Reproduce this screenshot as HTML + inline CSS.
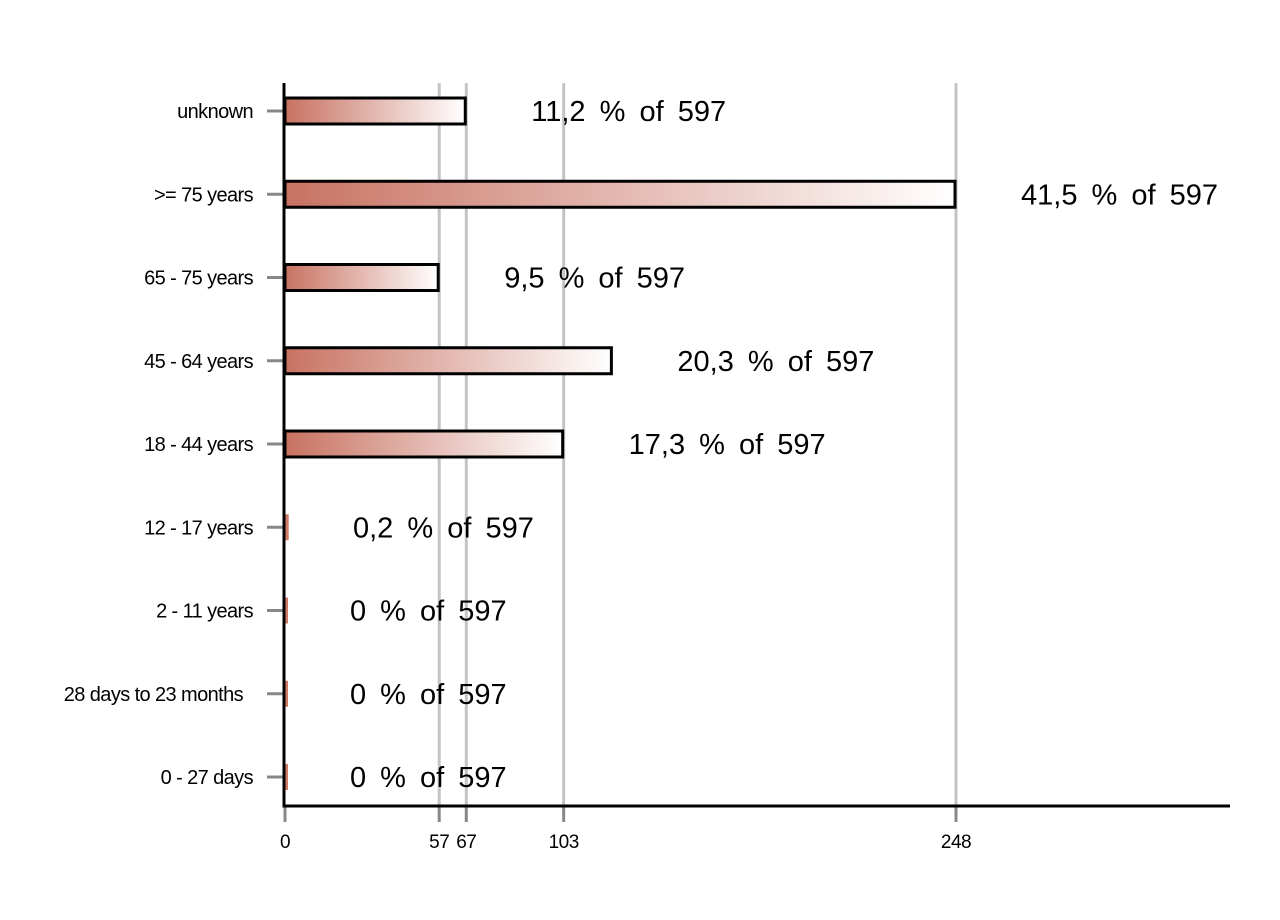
<!DOCTYPE html>
<html><head><meta charset="utf-8"><style>
html,body{margin:0;padding:0;background:#fff;}
svg{display:block;font-family:"Liberation Sans",Arial,sans-serif;}
</style></head><body>
<svg id="chart" width="1280" height="920" viewBox="0 0 1280 920" xmlns="http://www.w3.org/2000/svg">
<defs>
<linearGradient id="barGrad" x1="0" x2="1" y1="0" y2="0">
<stop offset="0" stop-color="#c87262"/>
<stop offset="1" stop-color="#ffffff"/>
</linearGradient>
</defs>
<g id="grid"></g>
<g id="bars"></g>
<g id="axes"></g>
<g id="labels"></g>
</svg>
<script>
const categories = ["unknown", ">= 75 years", "65 - 75 years", "45 - 64 years", "18 - 44 years", "12 - 17 years", "2 - 11 years", "28 days to 23 months", "0 - 27 days"];
const values = [67, 248, 57, 121, 103, 1, 0, 0, 0];
const percentLabels = ["11,2", "41,5", "9,5", "20,3", "17,3", "0,2", "0", "0", "0"];
const total = 597;
const tickValues = [0, 57, 67, 103, 248];
const tickLabels = ["0", "57", "67", "103", "248"];

const NS = "http://www.w3.org/2000/svg";
const x0 = 285, xScale = (956 - 285) / 248;
const rowTop = 111, rowStep = 83.25, barH = 26;
const axisY = 806, axisTop = 83;
function xs(v){ return x0 + v * xScale; }
function yc(i){ return rowTop + i * rowStep; }
function mk(tag, attrs, parent){
  const el = document.createElementNS(NS, tag);
  for (const k in attrs) el.setAttribute(k, attrs[k]);
  parent.appendChild(el);
  return el;
}
const grid = document.getElementById('grid');
const bars = document.getElementById('bars');
const axes = document.getElementById('axes');
const labels = document.getElementById('labels');

tickValues.forEach((v, i) => {
  const x = xs(v);
  if (v > 0) {
    const g = mk('line', {x1:x, x2:x, y1:axisTop, y2:axisY, stroke:'#c4c4c4', 'stroke-width':3}, grid);
    
    
  }
  const t = mk('line', {x1:x, x2:x, y1:axisY, y2:axisY + 16, stroke:'#888', 'stroke-width':3}, axes);
  
  
  const tl = mk('text', {x:x, y:848, 'font-size':19, 'text-anchor':'middle', fill:'#000', 'letter-spacing':'-0.5'}, labels);
  tl.textContent = tickLabels[i];
  
  
});

categories.forEach((c, i) => {
  const y = yc(i);
  const w = values[i] * xScale;
  let b;
  if (w < 6) {
    b = mk('rect', {x:x0 - 1, y:y - barH/2, width:Math.max(w, 2) + 2, height:barH, fill:'#d07a68'}, bars);
  } else {
    b = mk('rect', {x:x0, y:y - barH/2, width:w - 1, height:barH, fill:'url(#barGrad)', stroke:'#000', 'stroke-width':3}, bars);
  }
  
  
  const tk = mk('line', {x1:267, x2:283, y1:y, y2:y, stroke:'#888', 'stroke-width':3}, axes);
  
  
  const cl = mk('text', {x:c.length > 15 ? 243 : 253, y:y + 7, 'font-size':20, 'text-anchor':'end', fill:'#000', 'letter-spacing':'-0.6'}, labels);
  cl.textContent = c;
  
  
  const vx = (w < 6 ? x0 + 65 : xs(values[i]) + 65) + (values[i] > 0 && w < 6 ? 3 : 0);
  const vl = mk('text', {x:vx, y:y + 10, 'font-size':29, fill:'#000', 'word-spacing':'6'}, labels);
  vl.textContent = percentLabels[i] + ' % of ' + total;
  
  
});

const ya = mk('line', {x1:284, x2:284, y1:axisTop, y2:axisY + 1.5, stroke:'#000', 'stroke-width':3}, axes);


const xa = mk('line', {x1:282.5, x2:1230, y1:axisY, y2:axisY, stroke:'#000', 'stroke-width':3}, axes);


</script>
</body></html>
